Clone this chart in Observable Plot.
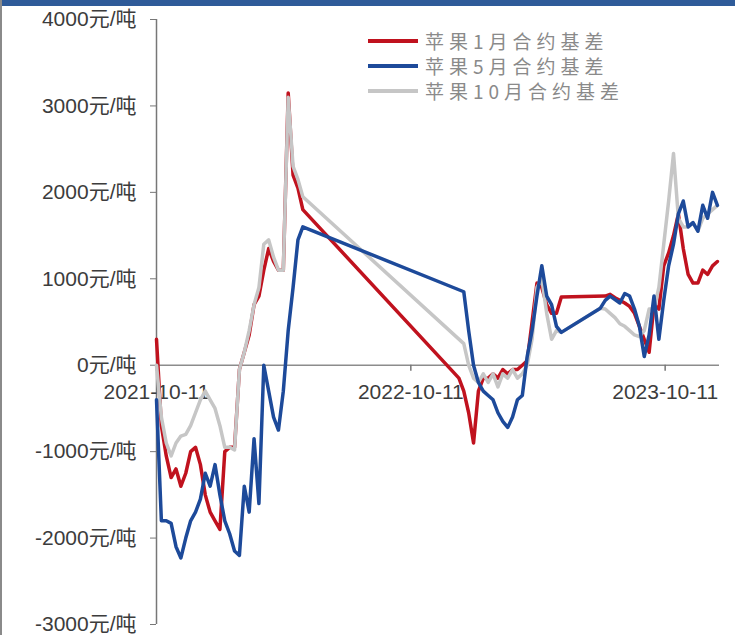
<!DOCTYPE html>
<html><head><meta charset="utf-8">
<script src="https://cdn.jsdelivr.net/npm/d3@7"></script>
<script src="https://cdn.jsdelivr.net/npm/@observablehq/plot@0.6"></script>
<style>
body{margin:0;background:#fff;}
#wrap{position:relative;width:735px;height:635px;overflow:hidden;background:#fff;}
#bar{position:absolute;left:0;top:0;width:735px;height:6px;background:#2f5b99;}
#lborder{position:absolute;left:0;top:0;width:2px;height:635px;background:#8a8a8a;}
#legend{position:absolute;left:368px;top:28px;font-family:"Noto Sans CJK SC",sans-serif;font-size:19px;line-height:25px;color:#8a8a8a;letter-spacing:5px;}
.row{display:flex;align-items:center;height:25px;line-height:25px;white-space:nowrap;}
.sw{width:50px;height:4px;margin-right:7px;}
</style></head>
<body><div id="wrap"><div id="chart"></div><div id="bar"></div><div id="lborder"></div><div id="legend"></div></div>
<script>
const dates = [
"2021-10-11","2021-10-18","2021-10-25","2021-11-01","2021-11-08","2021-11-15","2021-11-22","2021-11-29","2021-12-06","2021-12-13","2021-12-20","2021-12-27","2022-01-03","2022-01-10","2022-01-17","2022-01-24","2022-01-31","2022-02-07","2022-02-14","2022-02-21","2022-02-28","2022-03-07","2022-03-14","2022-03-21","2022-03-28","2022-04-04","2022-04-11","2022-04-18","2022-04-25","2022-05-02","2022-05-09",
"2022-12-19","2022-12-26","2023-01-02","2023-01-09","2023-01-16","2023-01-23","2023-01-30","2023-02-06","2023-02-13","2023-02-20","2023-02-27","2023-03-06","2023-03-13","2023-03-20","2023-03-27","2023-04-03","2023-04-10","2023-04-17","2023-04-24","2023-05-01","2023-05-08","2023-05-15","2023-05-22","2023-05-29","2023-06-05","2023-06-12","2023-06-19","2023-06-26","2023-07-03","2023-07-10","2023-07-17","2023-07-24","2023-07-31","2023-08-07","2023-08-14","2023-08-21","2023-08-28","2023-09-04","2023-09-11","2023-09-18","2023-09-25","2023-10-02","2023-10-09","2023-10-16","2023-10-23","2023-10-30","2023-11-06","2023-11-13","2023-11-20","2023-11-27","2023-12-04","2023-12-11","2023-12-18","2023-12-25"
];
// 苹果1月合约基差
const jan = [
300,-700,-1050,-1300,-1200,-1400,-1250,-1000,-950,-1150,-1500,-1700,-1800,-1900,-1000,-950,-950,-50,150,350,700,800,1100,1350,1200,1100,1100,3150,2200,2050,1800,
-150,-300,-550,-900,-300,-150,-150,-100,-150,-50,-100,-50,-50,0,50,500,950,900,700,600,600,790,
null,null,null,null,null,null,null,null,
800,820,780,750,720,680,600,450,300,150,700,650,1150,1300,1500,1750,1350,1050,950,950,1100,1050,1150,1200
];
// 苹果5月合约基差
const may = [
-400,-1800,-1800,-1830,-2100,-2230,-2000,-1800,-1700,-1550,-1250,-1400,-1150,-1500,-1800,-1950,-2150,-2200,-1400,-1700,-850,-1600,0,-300,-600,-750,-300,400,900,1450,1600,
null,850,400,0,-200,-300,-350,-400,-550,-650,-720,-600,-400,-350,100,400,800,1150,800,700,450,380,
null,null,null,null,null,null,null,
660,750,800,760,720,830,800,650,450,100,350,800,300,750,1150,1400,1750,1900,1600,1650,1550,1850,1700,2000,1850
];
// 苹果10月合约基差
const oct = [
0,-600,-900,-1050,-900,-820,-800,-700,-550,-400,-300,-400,-500,-700,-950,-950,-980,-50,150,400,700,900,1400,1450,1250,1100,1100,3100,2300,2150,1950,
null,250,0,-150,-200,-100,-200,-100,-250,-100,-150,-50,-150,-100,0,300,900,1000,600,300,400,380,
null,null,null,null,null,null,null,
660,650,600,550,480,450,400,350,330,400,650,650,900,1400,1900,2450,1700,1600,1600,1650,1550,1700,1750,1800,1850
];
const seriesNames = ["苹果1月合约基差","苹果5月合约基差","苹果10月合约基差"];
const seriesColors = ["#c0121e","#1d4a9a","#c6c6c6"];
const yTicks = [-3000,-2000,-1000,0,1000,2000,3000,4000];
const xTickLabels = ["2021-10-11","2022-10-11","2023-10-11"];
const xStart = "2021-10-11", xEnd = "2023-12-28";

const mk = arr => dates.map((d,i)=>({date:new Date(d), value:arr[i]})).filter(d=>d.value!=null);
const redData = mk(jan), blueData = mk(may), grayData = mk(oct);
const xTickDates = xTickLabels.map(s=>new Date(s));

const chart = Plot.plot({
  width: 735, height: 635,
  marginLeft: 156, marginRight: 16, marginTop: 19, marginBottom: 11,
  style: {fontFamily: "'Liberation Sans','Noto Sans CJK SC',sans-serif", fontSize: "21px", color: "#3c3c3c", background: "transparent"},
  x: {type: "utc", domain: [new Date(xStart), new Date(xEnd)], axis: null},
  y: {domain: [-3000, 4000], axis: null},
  marks: [
    Plot.ruleY([0], {stroke: "#8c8c8c", strokeWidth: 1.5}),
    Plot.ruleX([new Date(xStart)], {stroke: "#777", strokeWidth: 1.5}),
    Plot.axisY({ticks: yTicks, tickFormat: d => d + "元/吨", tickSize: 6, tickPadding: 14, fontSize: 21, stroke: "#777", label: null}),
    Plot.ruleX(xTickDates, {x: d => d, y1: 0, y2: -70, stroke: "#777", strokeWidth: 1.5}),
    Plot.text(xTickDates, {x: d => d, y: 0, text: (d,i) => xTickLabels[i], dy: 27, fontSize: 21, fill: "#3c3c3c"}),
    Plot.lineY(redData, {x: "date", y: "value", stroke: seriesColors[0], strokeWidth: 3.5, strokeLinejoin: "round"}),
    Plot.lineY(grayData, {x: "date", y: "value", stroke: seriesColors[2], strokeWidth: 3.5, strokeLinejoin: "round"}),
    Plot.lineY(blueData, {x: "date", y: "value", stroke: seriesColors[1], strokeWidth: 3.5, strokeLinejoin: "round"})
  ]
});
document.getElementById("chart").appendChild(chart);

const lg = document.getElementById("legend");
seriesNames.forEach((n,i)=>{
  const r = document.createElement("div"); r.className = "row";
  const s = document.createElement("div"); s.className = "sw"; s.style.background = seriesColors[i];
  const t = document.createElement("span"); t.textContent = n;
  r.appendChild(s); r.appendChild(t); lg.appendChild(r);
});
</script>
</body></html>
